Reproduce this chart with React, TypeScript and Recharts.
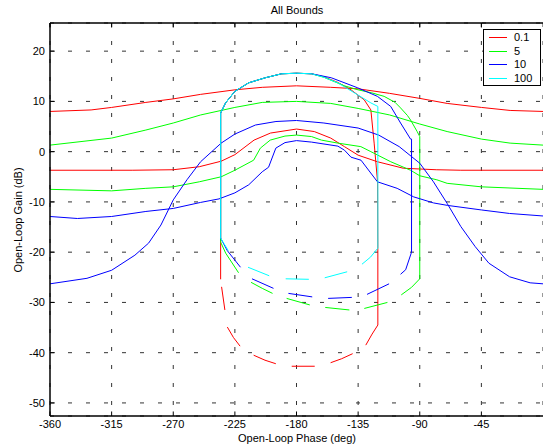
import {
  LineChart,
  Line,
  XAxis,
  YAxis,
  CartesianGrid,
  ReferenceLine,
} from 'recharts'

// axis ticks
const phaseTicks = [-360, -315, -270, -225, -180, -135, -90, -45]
const gainTicks = [20, 10, 0, -10, -20, -30, -40, -50]
const phaseRange = [-360, 0]
const gainRange = [-52.6, 25.6]

type Pt = [number, number] | null

// shared top arc of the closed bounds (right to left)
const topArc: Pt[] = [
  [-169.1, 15.5], [-180, 15.6], [-190.8, 15.5], [-202.8, 14.7],
  [-214.9, 13.7], [-225, 12], [-231.8, 9.7], [-235.4, 7.7],
]

// w = 0.1
const red_upper: Pt[] = [
  [-360, 8.0], [-330, 8.3], [-315, 8.8], [-290, 9.8], [-270, 10.5],
  [-250, 11.4], [-225, 12.3], [-205, 12.8], [-180, 13.1], [-155, 12.8],
  [-135, 12.5], [-112, 11.6], [-90, 10.6], [-70, 9.6], [-45, 8.8],
  [-24, 8.2], [0, 8.0],
]
const red_lower: Pt[] = [
  [-360, -3.7], [-300, -3.7], [-270, -3.6], [-251, -3.0], [-235, -1.9],
  [-225, -0.6], [-211, 2.3], [-199, 3.7], [-180, 4.5], [-167, 4.0],
  [-155, 2.7], [-145, 1.0], [-135, -0.7], [-121, -2.0], [-102, -3.3],
  [-78, -3.6], [-60, -3.7], [0, -3.7],
]
const red_bound: Pt[] = [
  [-120.6, -34.5], [-120.6, -20], [-120.8, -6], [-123.3, 1.7],
  [-125.7, 8.3], [-130.5, 10.3], [-140.2, 12.3], [-150, 13.8],
  [-160, 14.9], ...topArc, [-235.4, -25.4], null,
  [-234.7, -26.9], [-232.3, -31.5], null,
  [-230.5, -34.9], [-226, -37], [-221.2, -38.7], null,
  [-211.3, -40.5], [-203, -41.5], [-195.1, -42.2], null,
  [-183.5, -42.7], [-166.7, -42.7], null,
  [-155.1, -42], [-147, -41.2], [-139, -40.2], null,
  [-129.4, -38.5], [-124.8, -36.3], [-120.6, -34.5],
]

// w = 5
const green_upper: Pt[] = [
  [-360, 1.3], [-315, 2.7], [-290, 4.3], [-270, 5.7], [-250, 7.3],
  [-225, 8.8], [-205, 9.8], [-180, 10.0], [-155, 9.6], [-135, 8.6],
  [-112, 7.3], [-90, 5.5], [-70, 4.0], [-45, 2.5], [-24, 1.7], [0, 1.3],
]
const green_lower: Pt[] = [
  [-360, -7.5], [-315, -7.8], [-290, -7.3], [-270, -7.0], [-251, -6.0],
  [-235, -5.0], [-225, -3.7], [-211.3, -1.7], [-206.4, 0.7], [-199.2, 2.3],
  [-188.4, 3.1], [-180, 3.3], [-169, 3.0], [-161.8, 2.3], [-149.8, 1.7],
  [-133, 1.0], [-125.7, 0], [-111.2, -2], [-96.7, -3.7], [-90, -4.8],
  [-77.5, -5.6], [-70, -6.3], [-45, -7.0], [0, -7.5],
]
const green_bound: Pt[] = [
  [-90, 3], [-91.9, 4], [-96.7, 6.3], [-99, 7.2], [-104, 8.7],
  [-108, 9.8], [-116, 11], [-125, 11.7], [-135, 12.3], [-145, 13.1],
  [-160, 14.8], ...topArc, [-235.4, -18], [-231.7, -20.2], [-222.3, -24.1], null,
  [-213.2, -26], [-205, -27.2], [-197.5, -28.2], null,
  [-187.2, -29.2], [-170.3, -30.5], null,
  [-159, -31], [-141.4, -31.5], null,
  [-130.5, -31.2], [-113.6, -30], null,
  [-103.5, -28.5], [-96, -27], [-90, -25.3], [-90, 3],
]

// w = 10
const blue_bell: Pt[] = [
  [-360, -26.3], [-333, -25.2], [-315, -23.6], [-298, -20.6], [-288, -18.2],
  [-279, -14.6], [-270, -9.6], [-260, -5.6], [-250, -2.0], [-235, 1.7],
  [-225, 3.5], [-210, 5.3], [-195, 6.0], [-180, 6.2], [-160, 5.7],
  [-135, 4.7], [-120, 3.3], [-105, 1.0], [-90, -2.3], [-80, -6],
  [-70, -10.3], [-60, -14.9], [-49.5, -18.9], [-39.5, -22.2],
  [-24.4, -24.9], [-9.4, -26.1], [0, -26.3],
]
const blue_lower: Pt[] = [
  [-360, -12.9], [-340, -13.3], [-315, -12.9], [-290, -11.9], [-270, -11.3],
  [-250, -10.1], [-236.6, -9.4], [-225, -8.2], [-214.9, -6.6], [-205, -4.0],
  [-200.4, -3.1], [-195.1, 0.7], [-188.4, 1.8], [-180, 2.2], [-169, 1.9],
  [-149.8, 1.1], [-145, 0.3], [-140.2, -1.1], [-132.9, -1.7], [-120.9, -6],
  [-106.5, -7.3], [-94.4, -9], [-80, -10.2], [-69.6, -10.7], [-45, -11.6],
  [-24.4, -12.3], [0, -12.8],
]
const blue_bound: Pt[] = [
  [-96, -20], [-96, 2.5], [-96.7, 2.5], [-104, 5.7], [-111.2, 9],
  [-120.9, 11], [-135.3, 12.7], [-154.6, 14.7], ...topArc,
  [-235.4, -17.2], [-230.5, -19.7], [-220.9, -23], null,
  [-212.5, -25.3], [-196.8, -27.2], null,
  [-185.9, -28.2], [-168.5, -28.9], null,
  [-156.9, -29.2], [-139.6, -29], null,
  [-128.5, -28.4], [-112.4, -26.3], null,
  [-104, -24.4], [-100.3, -23.5], [-96, -20],
]

// w = 100
const cyan_bound: Pt[] = [
  [-120.6, -19.2], [-120.6, 9.0], [-125.7, 9.7], [-135.3, 11.3],
  [-149.8, 13.7], [-160, 14.8], ...topArc, [-235.4, -17.2],
  [-229.8, -19.7], null,
  [-215.4, -23], [-199.9, -24.7], null,
  [-187.9, -25.3], [-171, -25.4], null,
  [-159.4, -25.1], [-143, -23.9], null,
  [-132.2, -22.4], [-126, -21], [-120.6, -19.2],
]

const freqs = ['0.1', '5', '10', '100']
const colors = ['#ff0000', '#00ff00', '#0000ff', '#00ffff']

const curves: { id: string; color: string; pts: Pt[] }[] = [
  { id: 'r1', color: colors[0], pts: red_upper },
  { id: 'r2', color: colors[0], pts: red_lower },
  { id: 'r3', color: colors[0], pts: red_bound },
  { id: 'g1', color: colors[1], pts: green_upper },
  { id: 'g2', color: colors[1], pts: green_lower },
  { id: 'g3', color: colors[1], pts: green_bound },
  { id: 'b1', color: colors[2], pts: blue_bell },
  { id: 'b2', color: colors[2], pts: blue_lower },
  { id: 'b3', color: colors[2], pts: blue_bound },
  { id: 'c1', color: colors[3], pts: cyan_bound },
]

function toRows(pts: Pt[]) {
  let lastX = 0
  return pts.map((p) => {
    if (!p) return { x: lastX, y: null }
    lastX = p[0]
    return { x: p[0], y: p[1] }
  })
}

const font = '"Liberation Sans", Arial, sans-serif'

export default function App() {
  const [x0] = phaseRange
  const [y0, y1] = gainRange
  return (
    <div
      style={{
        position: 'absolute',
        left: 0,
        top: 0,
        width: 543,
        height: 447,
        overflow: 'hidden',
        background: '#fff',
        fontFamily: font,
      }}
    >
      {/* title */}
      <div style={{ position: 'absolute', top: 4, left: 247, width: 100, textAlign: 'center', fontSize: 11 }}>
        All Bounds
      </div>
      {/* y label */}
      <div
        style={{
          position: 'absolute',
          left: 18,
          top: 220,
          fontSize: 11,
          whiteSpace: 'nowrap',
          transform: 'translate(-50%, -50%) rotate(-90deg)',
        }}
      >
        Open-Loop Gain (dB)
      </div>
      {/* x label */}
      <div style={{ position: 'absolute', top: 432, left: 197, width: 200, textAlign: 'center', fontSize: 11 }}>
        Open-Loop Phase (deg)
      </div>

      <LineChart
        width={543}
        height={447}
        margin={{ top: 23, right: 0, bottom: 0, left: 0 }}
      >
        <CartesianGrid
          stroke="#333"
          strokeDasharray="4 14"
          strokeWidth={1}
        />
        <XAxis
          dataKey="x"
          type="number"
          domain={phaseRange}
          ticks={phaseTicks}
          allowDataOverflow
          height={31}
          tickLine={false}
          tickSize={0}
          tickMargin={4}
          axisLine={{ stroke: '#000', strokeWidth: 1.5 }}
          tick={{ fill: '#000', fontSize: 11, fontFamily: font }}
        />
        <YAxis
          type="number"
          domain={gainRange}
          ticks={gainTicks}
          allowDataOverflow
          width={50}
          tickLine={false}
          tickSize={0}
          tickMargin={5}
          axisLine={{ stroke: '#000', strokeWidth: 1.5 }}
          tick={{ fill: '#000', fontSize: 11, fontFamily: font }}
        />
        <ReferenceLine y={y1} stroke="#000" strokeWidth={1.5} />
        {phaseTicks.map((t) => (
          <ReferenceLine
            key={'bt' + t}
            segment={[{ x: t, y: y0 }, { x: t, y: y0 + 0.9 }]}
            stroke="#000"
          />
        ))}
        {phaseTicks.map((t) => (
          <ReferenceLine
            key={'tt' + t}
            segment={[{ x: t, y: y1 }, { x: t, y: y1 - 0.9 }]}
            stroke="#000"
          />
        ))}
        {gainTicks.map((t) => (
          <ReferenceLine
            key={'lt' + t}
            segment={[{ x: x0, y: t }, { x: x0 + 3.5, y: t }]}
            stroke="#000"
          />
        ))}
        {curves.map((c) => (
          <Line
            key={c.id}
            data={toRows(c.pts)}
            dataKey="y"
            type="linear"
            stroke={c.color}
            strokeWidth={1}
            dot={false}
            activeDot={false}
            connectNulls={false}
            isAnimationActive={false}
          />
        ))}
      </LineChart>

      {/* legend */}
      <div
        style={{
          position: 'absolute',
          left: 483,
          top: 29,
          width: 56,
          height: 55,
          border: '1.5px solid #000',
          background: '#fff',
          fontSize: 11,
        }}
      >
        {freqs.map((f, i) => (
          <div key={f} style={{ position: 'absolute', left: 0, top: 1 + i * 13.5, height: 13, width: 56 }}>
            <div
              style={{
                position: 'absolute',
                left: 5,
                top: 6,
                width: 18,
                height: 0,
                borderTop: `1px solid ${colors[i]}`,
              }}
            />
            <div style={{ position: 'absolute', left: 30, top: 0, lineHeight: '13px' }}>{f}</div>
          </div>
        ))}
      </div>
    </div>
  )
}
